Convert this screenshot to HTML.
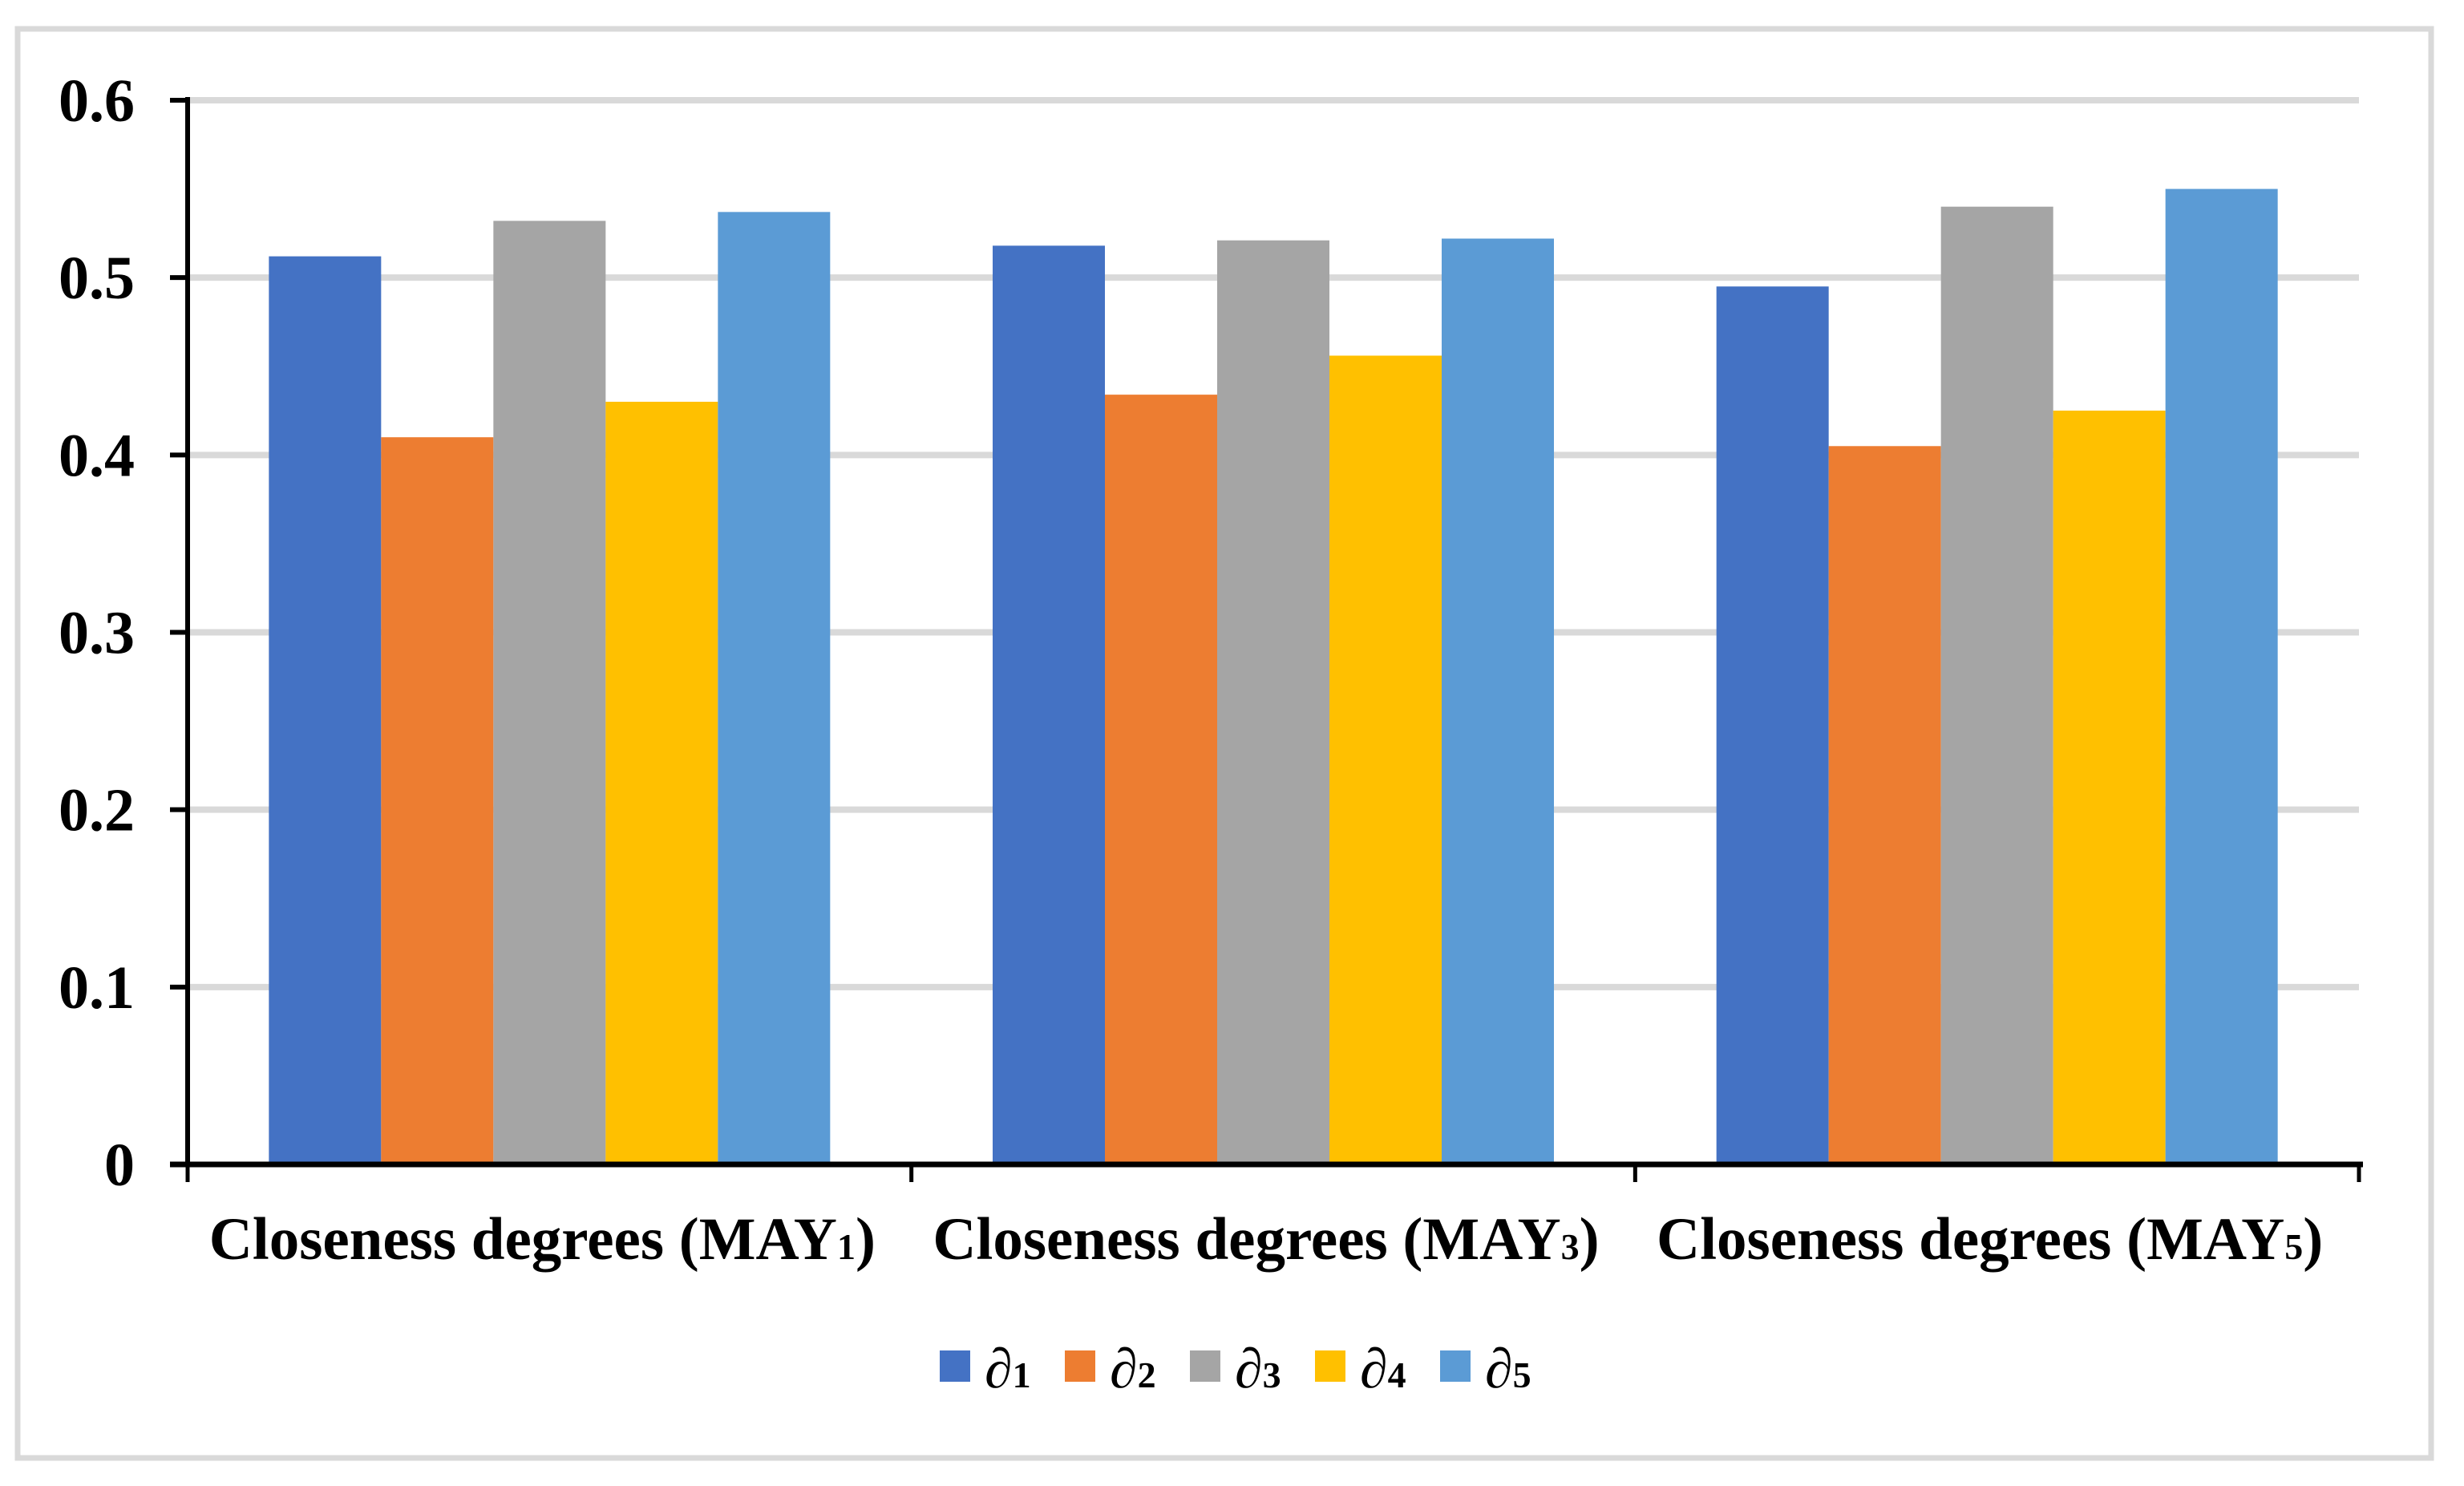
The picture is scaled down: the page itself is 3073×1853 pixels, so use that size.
<!DOCTYPE html>
<html><head><meta charset="utf-8"><style>
html,body{margin:0;padding:0;background:#fff;}
svg{display:block;}
text{font-family:"Liberation Serif",serif;font-weight:bold;fill:#000;}
</style></head><body>
<svg id="chart" width="3073" height="1853" viewBox="0 0 3073 1853">
<rect x="22" y="36" width="3010" height="1782" fill="#fff" stroke="#d9d9d9" stroke-width="7"/>
<g id="grid"></g><g id="bars"></g><g id="axes"></g><g id="legend"></g>
</svg>
<script>
const categories = ["Closeness degrees (MAY", "Closeness degrees (MAY", "Closeness degrees (MAY"];
const categorySubs = ["1", "3", "5"];
const seriesNames = ["1", "2", "3", "4", "5"];
const s1 = [0.512, 0.518, 0.495];
const s2 = [0.410, 0.434, 0.405];
const s3 = [0.532, 0.521, 0.540];
const s4 = [0.430, 0.456, 0.425];
const s5 = [0.537, 0.522, 0.550];
const yTicks = [0, 0.1, 0.2, 0.3, 0.4, 0.5, 0.6];
const yTickLabels = ["0", "0.1", "0.2", "0.3", "0.4", "0.5", "0.6"];

const series = [s1, s2, s3, s4, s5];
const colors = ["#4472c4", "#ed7d31", "#a5a5a5", "#ffc000", "#5b9bd5"];
const NS = "http://www.w3.org/2000/svg";
const X0 = 234, X1 = 2942, Y0 = 1452, Y6 = 125, YMAX = 0.6;
const y = v => Y0 - (v / YMAX) * (Y0 - Y6);
const groupW = (X1 - X0) / categories.length;
const barW = 140;
const x = (g, s) => X0 + g * groupW + (groupW - barW * series.length) / 2 + s * barW;
function mk(tag, attrs, parent, txt) {
  const e = document.createElementNS(NS, tag);
  for (const k in attrs) e.setAttribute(k, attrs[k]);
  if (txt !== undefined) e.textContent = txt;
  document.getElementById(parent).appendChild(e);
  return e;
}
yTicks.forEach((t, i) => {
  if (t > 0) {
    const gl = mk("line", {x1: X0, x2: X1, y1: y(t), y2: y(t), stroke: "#d9d9d9", "stroke-width": 8}, "grid");
    
    
  }
  const tk = mk("line", {x1: X0 - 22, x2: X0, y1: y(t), y2: y(t), stroke: "#000", "stroke-width": 6}, "axes");
  
  
  const lb = mk("text", {x: 0, y: 0, "font-size": 76, "text-anchor": "end", transform: `translate(168,${y(t) + 26}) scale(1,1)`}, "axes", yTickLabels[i]);
  
  
});
series.forEach((arr, s) => arr.forEach((v, g) => {
  const r = mk("rect", {x: x(g, s), y: y(v), width: barW, height: Y0 - y(v), fill: colors[s]}, "bars");
  
  
}));
const ya = mk("line", {x1: X0, x2: X0, y1: Y6 - 4, y2: Y0 + 3, stroke: "#000", "stroke-width": 6}, "axes");


const xa = mk("line", {x1: X0 - 22, x2: X1 + 5, y1: Y0, y2: Y0, stroke: "#000", "stroke-width": 7}, "axes");


for (let g = 0; g <= categories.length; g++) {
  const tx = X0 + g * groupW;
  const t = mk("line", {x1: tx, x2: tx, y1: Y0, y2: Y0 + 22, stroke: "#000", "stroke-width": 5}, "axes");
  
  
}
categories.forEach((c, g) => {
  const cx = X0 + (g + 0.5) * groupW - 9;
  const t = mk("text", {x: 0, y: 0, "font-size": 75, "text-anchor": "middle", transform: `translate(${cx},1570)`}, "axes");
  
  
  const a = document.createElementNS(NS, "tspan"); a.textContent = c; t.appendChild(a);
  const b = document.createElementNS(NS, "tspan"); b.textContent = categorySubs[g]; b.setAttribute("font-size", 46); t.appendChild(b);
  const d = document.createElementNS(NS, "tspan"); d.textContent = ")"; t.appendChild(d);
});
seriesNames.forEach((n, s) => {
  const lx = 1172 + s * 156;
  const sw = mk("rect", {x: lx, y: 1684, width: 38, height: 39, fill: colors[s]}, "legend");
  
  
  const t = mk("text", {x: lx + 56, y: 1730, "font-size": 70, "font-style": "italic"}, "legend");
  
  
  const a = document.createElementNS(NS, "tspan"); a.textContent = "\u2202"; t.appendChild(a);
  const b = document.createElementNS(NS, "tspan"); b.textContent = n; b.setAttribute("font-size", 46); b.setAttribute("font-style", "normal"); t.appendChild(b);
});
</script>
</body></html>
